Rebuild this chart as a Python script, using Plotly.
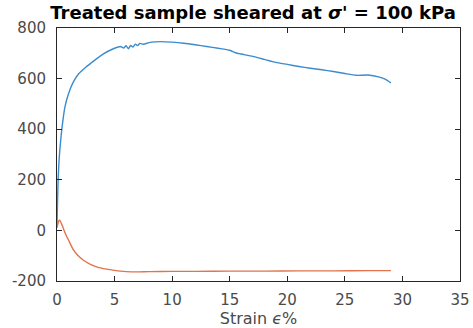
import plotly.graph_objects as go

# Blue series (deviator stress)
strain_q = [0, 0.05, 0.1, 0.2, 0.35, 0.5, 0.7, 1.0, 1.4, 1.9, 2.5, 3.2, 4.0, 4.8, 5.5,
            5.8, 6.0, 6.2, 6.4, 6.6, 6.8, 7.0, 7.2, 7.5, 8.0, 8.5, 9.0, 10, 11, 12, 13,
            14, 15, 15.5, 16, 17, 18, 19, 20, 21, 22, 23, 24, 25, 26, 27, 28, 28.5, 29]
q_vals = [20, 120, 200, 290, 370, 430, 490, 540, 585, 620, 645, 670, 697, 716, 727,
          721, 730, 718, 731, 725, 736, 731, 739, 736, 742, 745, 746, 744, 740, 734, 727,
          720, 712, 702, 697, 688, 676, 664, 656, 648, 641, 635, 628, 620, 613, 614, 606, 598, 583]

# Orange series (pore pressure)
strain_u = [0, 0.1, 0.2, 0.3, 0.45, 0.6, 0.8, 1.0, 1.4, 1.8, 2.3, 2.9, 3.5, 4.3, 5.0,
            5.5, 6.0, 7, 8, 10, 12, 15, 18, 21, 24, 27, 29]
u_vals = [10, 30, 40, 36, 20, 2, -20, -38, -75, -98, -118, -134, -145, -153, -158,
          -161, -163, -164, -163, -162, -162, -161, -161, -160, -160, -159, -159]

x_ticks = [0, 5, 10, 15, 20, 25, 30, 35]
y_ticks = [-200, 0, 200, 400, 600, 800]

fig = go.Figure()
fig.add_trace(go.Scatter(x=strain_q, y=q_vals, mode="lines",
                         line=dict(color="#3a8ccf", width=1.4, shape="spline", smoothing=0.6),
                         showlegend=False))
fig.add_trace(go.Scatter(x=strain_u, y=u_vals, mode="lines",
                         line=dict(color="#e2734a", width=1.4, shape="spline", smoothing=0.6),
                         showlegend=False))

tick_font = dict(family="DejaVu Sans", size=15, color="#4a4a4a")
axis_common = dict(showline=True, linecolor="#262626", linewidth=1, mirror="ticks",
                   ticks="inside", ticklen=5, tickcolor="#262626", showgrid=False,
                   zeroline=False, tickfont=tick_font, automargin=False)

fig.update_layout(
    width=473, height=328,
    margin=dict(l=57, r=13, t=28, b=47),
    paper_bgcolor="white", plot_bgcolor="white",
    title=dict(text="Treated sample sheared at <i>σ</i>' = 100 kPa", x=0.535, xanchor="center",
               y=0.962, yanchor="middle",
               font=dict(family="DejaVu Sans", size=18, color="black", weight="bold")),
    xaxis=dict(range=[0, 35], tickvals=x_ticks, ticktext=[str(v) for v in x_ticks],
               ticklabelstandoff=5,
               title=dict(text="Strain <i>ϵ</i>%", standoff=1,
                          font=dict(family="DejaVu Sans", size=16, color="#4a4a4a")),
               **axis_common),
    yaxis=dict(range=[-200, 800], tickvals=y_ticks, ticktext=[str(v) for v in y_ticks],
               ticklabelstandoff=7,
               **axis_common),
)

fig.write_html("out.html", config={"displayModeBar": False},
               post_script="document.body.style.margin='0';")
